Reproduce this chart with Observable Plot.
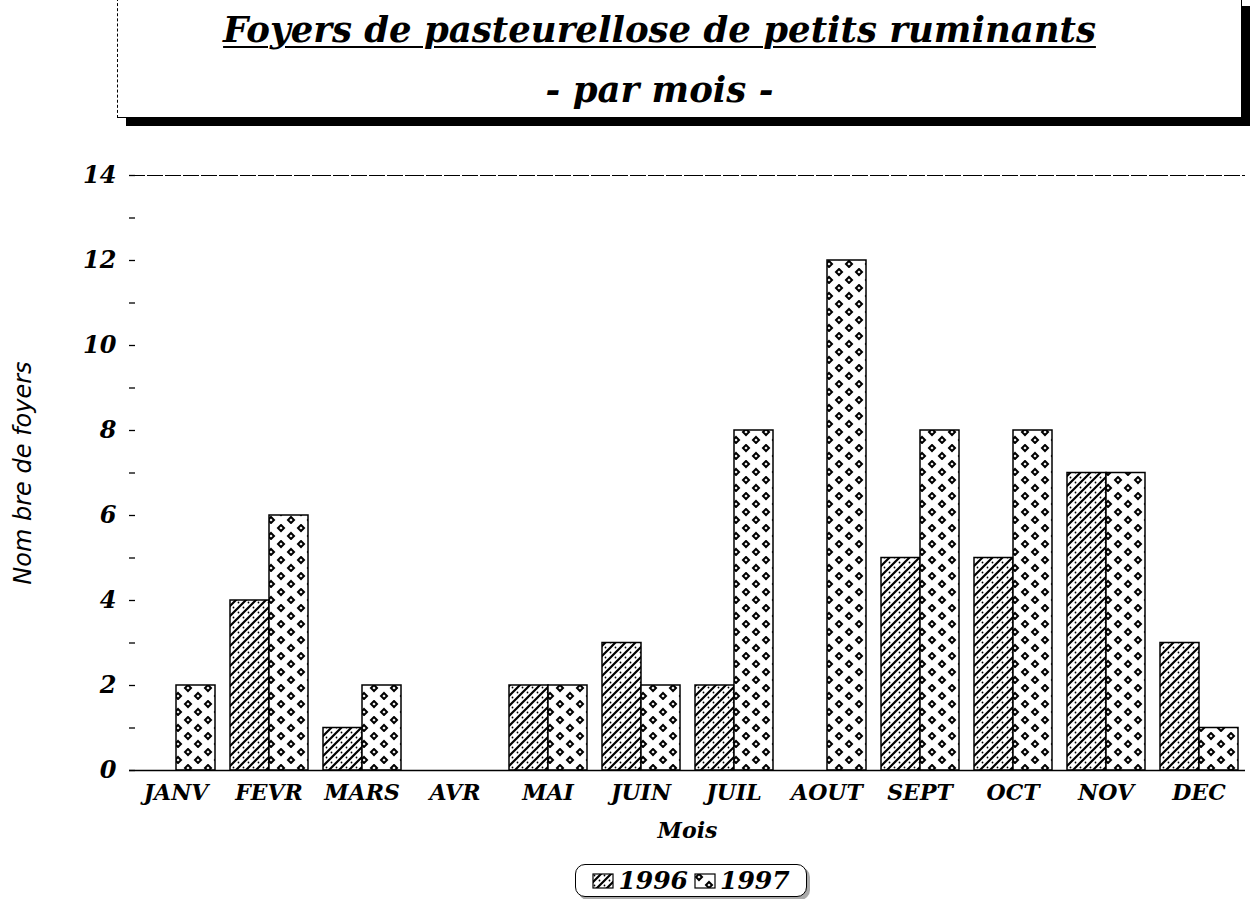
<!DOCTYPE html>
<html>
<head>
<meta charset="utf-8">
<script src="https://cdn.jsdelivr.net/npm/d3@7"></script>
<script src="https://cdn.jsdelivr.net/npm/@observablehq/plot@0.6"></script>
<style>
  html, body { margin:0; padding:0; background:#fff; }
  #page { position:relative; width:1250px; height:899px; overflow:hidden; background:#fff; }
  #titlebox { position:absolute; left:117px; top:-2px; width:1123px; height:118px; border:1px solid #000; border-left:1px dashed #000; box-shadow:9px 8px 0 #000; background:#fff; }
  .ttl { position:absolute; left:0; width:1083px; text-align:center; font-family:"DejaVu Serif", serif; font-style:italic; font-weight:bold; color:#000; }
  #title { top:10px; font-size:35.5px; text-decoration:underline; text-decoration-thickness:2px; text-underline-offset:4px; }
  #subtitle { top:70px; font-size:35.5px; }
  #chart { position:absolute; left:0; top:140px; }
  #legend { position:absolute; left:575px; top:864px; width:230px; height:31px; border:1.5px solid #000; border-radius:10px; box-shadow:3px 3px 0 #aaa; background:#fff; display:flex; align-items:center; justify-content:center; gap:6px; font-family:"DejaVu Serif", serif; font-style:italic; font-weight:bold; font-size:25px; }
  #legend .item { display:flex; align-items:center; gap:4px; }
  #legend svg { display:block; }
</style>
</head>
<body>
<div id="page">
  <div id="titlebox">
    <div class="ttl" id="title">Foyers de pasteurellose de petits ruminants</div>
    <div class="ttl" id="subtitle">- par mois -</div>
  </div>
  <div id="chart"></div>
  <div id="legend"></div>
</div>
<script>
const months = ["JANV","FEVR","MARS","AVR","MAI","JUIN","JUIL","AOUT","SEPT","OCT","NOV","DEC"];
const years = ["1996","1997"];
const values1996 = [0,4,1,0,2,3,2,0,5,5,7,3];
const values1997 = [2,6,2,0,2,2,8,12,8,8,7,1];
const yTicks = [0,2,4,6,8,10,12,14];
const yMinorTicks = [0,1,2,3,4,5,6,7,8,9,10,11,12,13,14];
const yLabel = "Nom bre de foyers";
const xLabel = "Mois";

const patternOf = {"1996": "url(#hatch96)", "1997": "url(#dots97)"};

const data = [];
months.forEach((m, i) => {
  data.push({month: m, year: "1996", value: values1996[i]});
  data.push({month: m, year: "1997", value: values1997[i]});
});

const chart = Plot.plot({
  width: 1250,
  height: 710,
  marginTop: 35,
  marginBottom: 80,
  marginLeft: 126,
  marginRight: 3,
  style: {fontFamily: "'DejaVu Serif', serif", fontStyle: "italic", fontWeight: "bold", fontSize: "22px", color: "#000", background: "#fff", overflow: "visible"},
  fx: {domain: months, padding: 0},
  x: {domain: years, axis: null, paddingInner: 0, paddingOuter: 0.17},
  y: {domain: [0, 14]},
  marks: [
    Plot.ruleY([14], {stroke: "#000", strokeWidth: 1, strokeDasharray: "16,2"}),
    Plot.barY(data.filter(d => d.year === "1996"), {fx: "month", x: "year", y: "value", fill: patternOf["1996"], stroke: "#000", strokeWidth: 1.5}),
    Plot.barY(data.filter(d => d.year === "1997"), {fx: "month", x: "year", y: "value", fill: patternOf["1997"], stroke: "#000", strokeWidth: 1.5}),
    Plot.ruleY([0], {stroke: "#000", strokeWidth: 1.5}),
    Plot.axisY(yMinorTicks, {tickSize: -6, text: null, label: null, stroke: "#000", strokeWidth: 1.3}),
    Plot.axisY(yTicks, {tickSize: 0, tickPadding: 13, fontSize: 24, label: yLabel, labelAnchor: "center", labelArrow: "none", labelOffset: 116}),
    Plot.axisFx({anchor: "bottom", tickSize: 0, tickPadding: 14, label: xLabel, labelAnchor: "center", labelArrow: "none", labelOffset: 67})
  ]
});

// Pattern definitions
const svg = d3.select(chart);
const defs = svg.insert("defs", ":first-child");
const h = defs.append("pattern").attr("id", "hatch96").attr("patternUnits", "userSpaceOnUse").attr("width", 10).attr("height", 10);
h.append("rect").attr("width", 10).attr("height", 10).attr("fill", "#fff");
h.append("path").attr("d", "M-1,11 L11,-1 M-6,6 L6,-6 M4,16 L16,4").attr("stroke", "#000").attr("stroke-width", 2.2);
h.append("circle").attr("cx", 2.5).attr("cy", 2.5).attr("r", 0.9).attr("fill", "#000");
h.append("circle").attr("cx", 7.5).attr("cy", 7.5).attr("r", 0.9).attr("fill", "#000");
const p = defs.append("pattern").attr("id", "dots97").attr("patternUnits", "userSpaceOnUse").attr("width", 20).attr("height", 16);
p.append("rect").attr("width", 20).attr("height", 16).attr("fill", "#fff");
[[5,4],[15,12]].forEach(([cx, cy]) => {
  p.append("path").attr("d", `M${cx},${cy-3} L${cx+3},${cy} L${cx},${cy+3} L${cx-3},${cy} Z`).attr("fill", "none").attr("stroke", "#000").attr("stroke-width", 2);
});

// restyle y-axis label (italic sans, not bold)
svg.selectAll("g[aria-label='y-axis label'] text, g[aria-label='y-axis label']")
  .attr("font-family", "'DejaVu Sans', sans-serif").attr("font-weight", "normal").attr("font-size", 24)
  .style("font-family", "'DejaVu Sans', sans-serif").style("font-weight", "normal").style("font-size", "24px");

document.getElementById("chart").appendChild(chart);

// Legend
const legend = d3.select("#legend");
years.forEach(y => {
  const item = legend.append("div").attr("class", "item");
  const s = item.append("svg").attr("width", 22).attr("height", 16);
  s.append("rect").attr("x", 1).attr("y", 1).attr("width", 20).attr("height", 14).attr("fill", patternOf[y]).attr("stroke", "#000").attr("stroke-width", 1.2);
  item.append("span").text(y);
});
</script>
</body>
</html>
